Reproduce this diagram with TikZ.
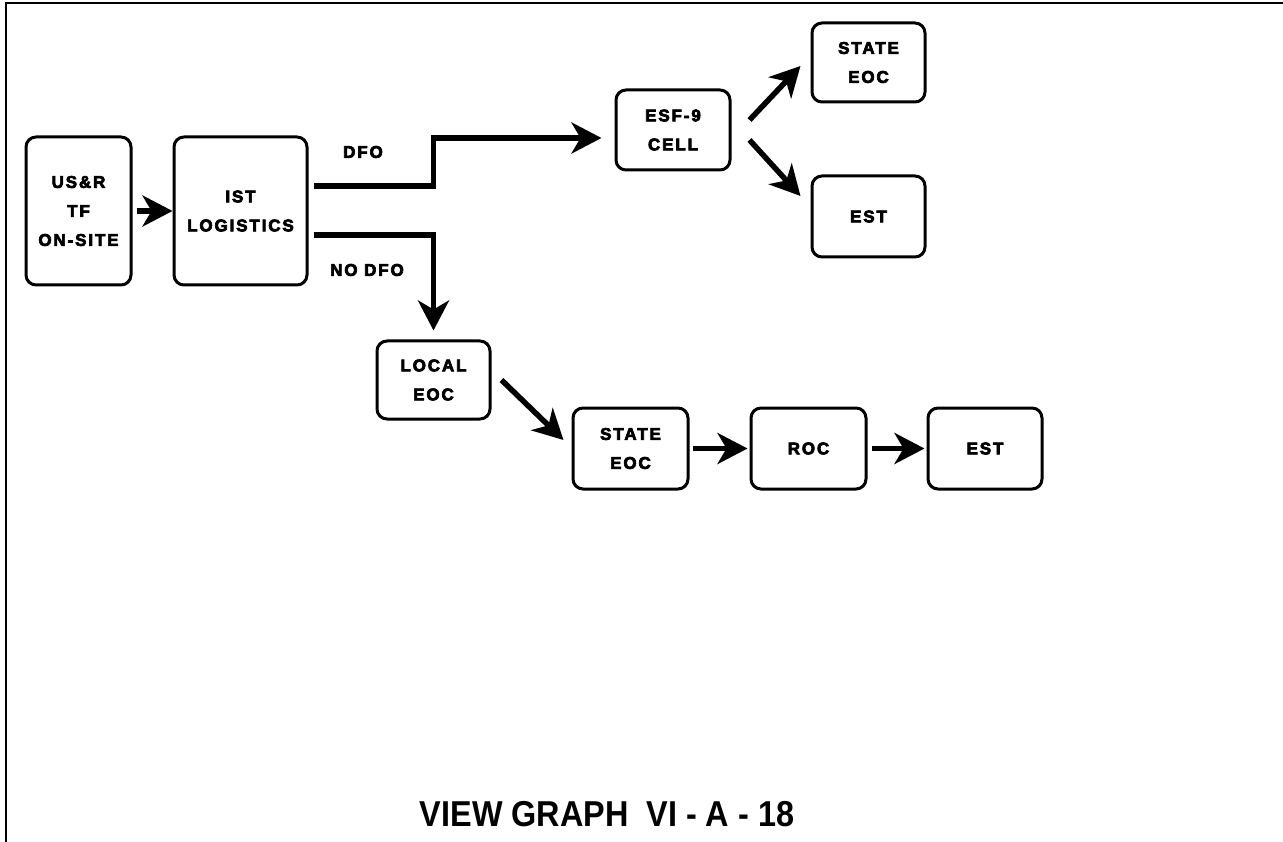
\documentclass[tikz,border=0pt]{standalone}
\usepackage{fontspec}
\setmainfont{Liberation Sans}
\newfontfamily\boxfont[LetterSpace=11,FakeBold=4]{Liberation Sans Bold}
\newfontfamily\titlefont[FakeStretch=0.9]{Liberation Sans Bold}
\usetikzlibrary{arrows.meta,calc}
\begin{document}
\begin{tikzpicture}[x=1pt,y=1pt,
  box/.style={draw,line width=3pt,rounded corners=10pt,align=center,inner sep=0pt,
    font=\boxfont\fontsize{17}{29}\selectfont},
  arr/.style={line width=5.5pt,-{Stealth[length=30pt,width=31pt,inset=9pt]}},
  lbl/.style={font=\boxfont\fontsize{17}{29}\selectfont,inner sep=0pt}]
\useasboundingbox (0,0) rectangle (1283,-842);
\draw[line width=2pt] (6,-842) -- (6,-3) -- (1283,-3);
\node[box,minimum width=105pt,minimum height=148pt] (us) at (78.5,-211) {US\&R\\TF\\ON-SITE};
\node[box,minimum width=133pt,minimum height=148pt] (ist) at (240.5,-211) {IST\\LOGISTICS};
\node[box,minimum width=114pt,minimum height=80pt] (esf) at (673,-130) {ESF-9\\CELL};
\node[box,minimum width=113pt,minimum height=79pt] (se1) at (868.5,-62.5) {STATE\\EOC};
\node[box,minimum width=113pt,minimum height=81pt] (est1) at (868.5,-216.5) {EST};
\node[box,minimum width=113pt,minimum height=78pt] (loc) at (433.5,-380) {LOCAL\\EOC};
\node[box,minimum width=115pt,minimum height=81pt] (se2) at (630.5,-448.5) {STATE\\EOC};
\node[box,minimum width=115pt,minimum height=81pt] (roc) at (808.5,-448.5) {ROC};
\node[box,minimum width=114pt,minimum height=81pt] (est2) at (985,-448.5) {EST};
\node[lbl] (dfo) at (363,-152) {DFO};
\node[lbl] (nodfo) at (367,-270) {NO DFO};
\node[font=\titlefont\fontsize{36}{40}\selectfont,anchor=base,inner sep=0pt] (title) at (607,-826) {VIEW GRAPH\ \ VI - A - 18};
\draw[arr,shorten <=4pt] (us.east) -- (ist.west);
\draw[arr,shorten >=13pt] ([xshift=5pt,yshift=25pt]ist.east) -- ++(120,0) |- ([yshift=-8pt]esf.west);
\draw[arr,shorten >=9pt] ([xshift=5pt,yshift=-24pt]ist.east) -| (loc.north);
\draw[arr] ([xshift=18pt,yshift=10pt]esf.east) -- ([xshift=-10pt,yshift=-3.5pt]se1.west);
\draw[arr] ([xshift=18pt,yshift=-10pt]esf.east) -- ([xshift=-10pt,yshift=20.5pt]est1.west);
\draw[arr] ([xshift=10pt]loc.east) -- ([xshift=-8pt,yshift=8.5pt]se2.west);
\draw[arr,shorten <=3pt,shorten >=2pt] (se2.east) -- (roc.west);
\draw[arr,shorten <=4pt,shorten >=2pt] (roc.east) -- (est2.west);
\end{tikzpicture}
\end{document}
